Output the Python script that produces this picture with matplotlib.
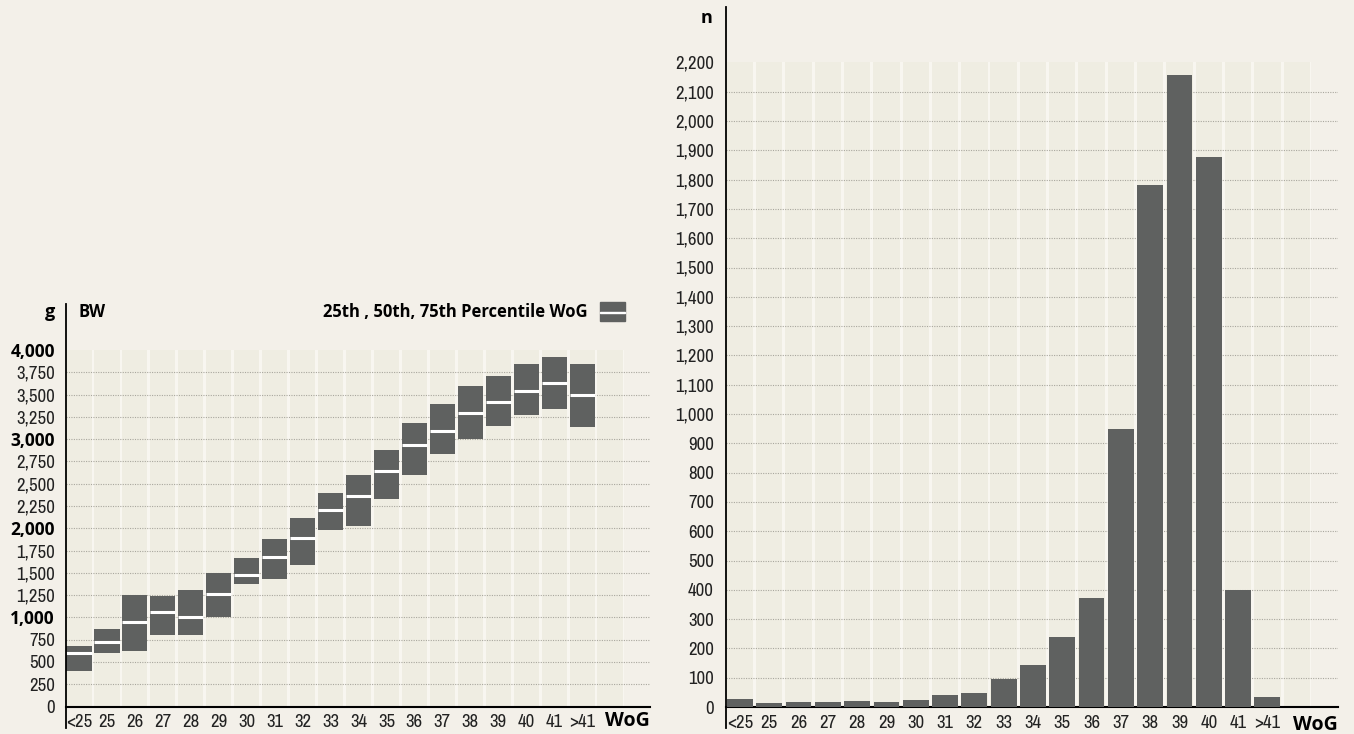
import matplotlib
matplotlib.use("Agg")
import matplotlib.pyplot as plt
from matplotlib import font_manager
from matplotlib.patches import Rectangle

# data
categories = ["<25", "25", "26", "27", "28", "29", "30", "31", "32", "33",
              "34", "35", "36", "37", "38", "39", "40", "41", ">41"]
bw_q25 = [400, 600, 625, 805, 805, 1000, 1375, 1435, 1590, 1980,
          2025, 2330, 2595, 2830, 3000, 3145, 3270, 3335, 3135]
bw_q50 = [600, 725, 950, 1060, 1000, 1260, 1470, 1680, 1890, 2205,
          2360, 2640, 2930, 3090, 3295, 3415, 3535, 3625, 3490]
bw_q75 = [680, 870, 1250, 1240, 1305, 1500, 1665, 1880, 2110, 2395,
          2595, 2875, 3180, 3390, 3595, 3705, 3840, 3920, 3840]
counts = [28, 15, 18, 18, 22, 18, 25, 42, 49, 94,
          142, 240, 372, 950, 1781, 2157, 1877, 400, 35]
bw_ticks = list(range(0, 4001, 250))
n_ticks = list(range(0, 2201, 100))

BG = "#f3f0e9"
STRIPE = "#efede2"
SEP = "#f8f6f0"
BAR = "#5f6160"
GRID = "#a9a79e"
bold = ["Open Sans", "DejaVu Sans"]

# look for a condensed face for the tick labels
narrow_font = None
for f in font_manager.fontManager.ttflist:
    if "Narrow" in f.name and f.weight in (400, "normal", "regular"):
        narrow_font = dict(family=f.name)
        break
if narrow_font is None:
    for f in font_manager.fontManager.ttflist:
        if f.name == "DejaVu Sans" and f.stretch == "condensed" and f.style == "normal":
            narrow_font = dict(family="DejaVu Sans", stretch="condensed")
            break
if narrow_font is None:
    narrow_font = dict(family="DejaVu Sans")

W, H = 1354, 734
fig = plt.figure(figsize=(W / 100, H / 100), dpi=100, facecolor=BG)


def fx(px):
    return px / W


def fy(py):
    return 1 - py / H


def setup(ax, xleft, ymax, ticks, spine_top, spine_bottom):
    ax.set_facecolor(BG)
    ax.axvspan(xleft, 19.5, color=SEP, zorder=0, lw=0)
    for i in range(20):
        ax.axvspan(i - 0.45 if i else xleft, i + 0.45, color=STRIPE, zorder=0, lw=0)
    for t in ticks[1:-1]:
        ax.axhline(t, color=GRID, lw=0.8, ls=(0, (1, 1.2)), zorder=1)
    ax.set_ylim(0, ymax)
    ax.set_yticks(ticks)
    ax.set_yticklabels([f"{t:,}" for t in ticks])
    ax.set_xticks(range(len(categories)))
    ax.set_xticklabels(categories)
    ax.tick_params(length=0)
    ax.tick_params(axis="x", pad=5.5)
    for lab in ax.get_xticklabels() + ax.get_yticklabels():
        lab.set_family(narrow_font["family"])
        if "stretch" in narrow_font:
            lab.set_stretch(narrow_font["stretch"])
        lab.set_fontsize(13.5)
        lab.set_color("#222222")
    for s in ["top", "right", "left"]:
        ax.spines[s].set_visible(False)
    ax.spines["bottom"].set_linewidth(1.5)
    ax.plot([0, 0], [spine_bottom, spine_top], transform=ax.transAxes,
            color="black", lw=1.3, clip_on=False, zorder=5)
    ax.text(1.0, -0.012, "WoG", transform=ax.transAxes, ha="right", va="top",
            family=bold, fontweight="bold", fontsize=14)


# left panel: birth weight percentiles
ax1 = fig.add_axes([fx(66), fy(706.5), fx(650) - fx(66), fy(350) - fy(706.5)])
ax1.set_xlim(-0.465, 20.43)
setup(ax1, -0.465, 4000, bw_ticks, 1.129, -0.06)
ax1.tick_params(axis="y", pad=8)
heights = [hi - lo for lo, hi in zip(bw_q25, bw_q75)]
ax1.bar(range(len(categories)), heights, bottom=bw_q25, width=0.9,
        color=BAR, zorder=3)
ax1.hlines(bw_q50, [i - 0.45 for i in range(len(categories))],
           [i + 0.45 for i in range(len(categories))],
           color="white", lw=2.2, zorder=4)
for lab, t in zip(ax1.get_yticklabels(), bw_ticks):
    if t > 0 and t % 1000 == 0:
        lab.set_family(bold)
        lab.set_stretch("normal")
        lab.set_fontweight("bold")
        lab.set_fontsize(12.5)
        lab.set_color("black")

fig.text(fx(55), fy(312), "g", ha="right", va="center", family=bold,
         fontweight="bold", fontsize=13)
fig.text(fx(78), fy(312), "BW", ha="left", va="center", family=bold,
         fontweight="bold", fontsize=12)
fig.text(fx(588), fy(312), "25th , 50th, 75th Percentile WoG", ha="right",
         va="center", family=bold, fontweight="bold", fontsize=12)
fig.add_artist(Rectangle((fx(600), fy(321)), fx(25), fy(302) - fy(321),
                         transform=fig.transFigure, color=BAR))
fig.add_artist(Rectangle((fx(600), fy(313.2)), fx(25), fy(311.8) - fy(313.2),
                         transform=fig.transFigure, color="white"))

# right panel: number of cases
ax2 = fig.add_axes([fx(726.5), fy(707), fx(1338) - fx(726.5), fy(62.4) - fy(707)])
ax2.set_xlim(-0.46, 20.41)
setup(ax2, -0.46, 2200, n_ticks, 1.086, -0.033)
ax2.tick_params(axis="y", pad=9)
ax2.bar(range(len(categories)), counts, width=0.88, color=BAR, zorder=3)
fig.text(fx(713), fy(18), "n", ha="right", va="center", family=bold,
         fontweight="bold", fontsize=13)

fig.savefig("out.png", dpi=100, facecolor=BG)
